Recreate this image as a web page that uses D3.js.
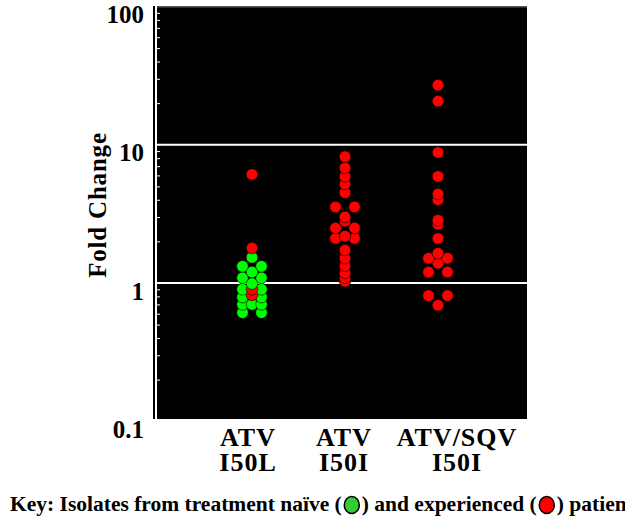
<!DOCTYPE html>
<html lang="en">
<head>
<meta charset="UTF-8">
<title>Fold change of I50L / I50I isolates</title>
<style>
  html, body { margin: 0; background: #fff; }
  text { font-family: 'Liberation Serif', 'Times New Roman', serif; font-weight: bold; fill: #000; }
</style>
</head>
<body>
<svg id="chart" width="625" height="520" viewBox="0 0 625 520"></svg>
<script src="https://d3js.org/d3.v7.min.js"></script>
<script>
// groups along x
const groupTop = ["ATV", "ATV", "ATV/SQV"];
const groupBottom = ["I50L", "I50I", "I50I"];

// fold change, treatment naive isolates (green)
const naiveValues = [
  [1.53, 1.32, 1.32, 1.2, 1.09, 1.09, 0.99, 0.9, 0.9, 0.79, 0.79, 0.7, 0.7, 0.7, 0.61, 0.61],
  [],
  []
];
// fold change, treatment experienced isolates (red)
const experiencedValues = [
  [6.1, 1.79, 0.9, 0.82],
  [8.2, 6.8, 5.9, 5.2, 4.5, 3.55, 3.55, 3.0, 2.8, 2.5, 2.5, 2.18, 2.1, 2.1, 1.73, 1.51, 1.33, 1.18, 1.09, 1.03],
  [27, 20.7, 8.8, 5.9, 4.4, 4.0, 2.84, 2.66, 2.1, 1.64, 1.51, 1.51, 1.39, 1.2, 1.2, 0.81, 0.81, 0.69]
];

const majorTicks = [0.1, 1, 10, 100];
const tickLabels = ["0.1", "1", "10", "100"];
const gridValues = [1, 10, 100];

const svg = d3.select("#chart");
const plot = {left: 153, right: 527, top: 6, bottom: 419};

const y = d3.scaleLog().domain([0.1, 100]).range([421.25, 6.5]);
const x = d3.scalePoint().domain(d3.range(groupTop.length)).range([252, 438]);
const colStep = 9.5, r = 5.8;

svg.append("rect")
  .attr("x", plot.left).attr("y", plot.top)
  .attr("width", plot.right - plot.left).attr("height", plot.bottom - plot.top)
  .attr("fill", "#000");

// white axis line
svg.append("line")
  .attr("x1", 156).attr("x2", 156)
  .attr("y1", plot.top).attr("y2", plot.bottom)
  .attr("stroke", "#fff").attr("stroke-width", 2);

// gridlines
svg.append("g").selectAll("line")
  .data(gridValues)
  .join("line")
  .attr("x1", 155).attr("x2", plot.right)
  .attr("y1", d => y(d)).attr("y2", d => y(d))
  .attr("stroke", "#fff").attr("stroke-width", 2)
  .attr("stroke-opacity", d => d === 100 ? 0.35 : 1);

// minor ticks
const minor = [];
[0.1, 1, 10].forEach(dec => { for (let k = 2; k <= 9; k++) minor.push(dec * k); });
const minorAxis = d3.axisRight(y).tickValues(minor).tickSize(3).tickFormat("");
const gMinor = svg.append("g").attr("transform", "translate(157,0)").call(minorAxis);
gMinor.select(".domain").remove();
gMinor.selectAll("line").attr("stroke", "#fff");

// labelled ticks
const yAxis = d3.axisLeft(y).tickValues(majorTicks).tickSize(0).tickPadding(11)
  .tickFormat((d, i) => tickLabels[i]);
const gY = svg.append("g").attr("transform", "translate(155,0)").call(yAxis);
gY.select(".domain").remove();
gY.selectAll("text")
  .attr("dy", 16)
  .attr("font-size", 25)
  .attr("font-family", "'Liberation Serif', 'Times New Roman', serif");

svg.append("text")
  .attr("transform", "translate(106,205) rotate(-90)")
  .attr("text-anchor", "middle")
  .attr("font-size", 25)
  .attr("letter-spacing", 0.8)
  .text("Fold Change");

// equal readings sit side by side, single ones in the centre column
function spread(values) {
  const counts = d3.rollup(values, v => v.length, d => d);
  const seen = new Map();
  return values.map(v => {
    const n = counts.get(v), k = seen.get(v) || 0;
    seen.set(v, k + 1);
    const slots = n === 1 ? [0] : n === 2 ? [-1, 1] : d3.range(n).map(i => i - (n - 1) / 2);
    return {v: v, c: slots[k]};
  });
}

const dots = [];
groupTop.forEach((g, i) => {
  spread(naiveValues[i]).forEach(d => dots.push({g: i, v: d.v, c: d.c, fill: "#00ff00"}));
  spread(experiencedValues[i]).forEach(d => dots.push({g: i, v: d.v, c: d.c, fill: "#ff0000"}));
});

// lower values drawn first so upper dots sit on top
const order = d3.range(dots.length).sort((a, b) => dots[a].v - dots[b].v);
svg.append("g").selectAll("circle")
  .data(order.map(k => dots[k]))
  .join("circle")
  .attr("cx", d => x(d.g) + d.c * colStep)
  .attr("cy", d => y(d.v))
  .attr("r", r)
  .attr("fill", d => d.fill)
  .attr("stroke", "#000")
  .attr("stroke-width", 0.6);

// group labels
const labelNudge = [-4, -1, 19];
const gx = svg.append("g").attr("text-anchor", "middle").attr("font-size", 26);
groupTop.forEach((g, i) => {
  const cx = x(i) + labelNudge[i];
  const t = gx.append("text").attr("letter-spacing", 1);
  t.append("tspan").attr("x", cx).attr("y", 446).text(g);
  t.append("tspan").attr("x", cx).attr("y", 471).text(groupBottom[i]);
});

// key line
const keyParts = ["Key: Isolates from treatment naïve (", ") and experienced (", ") patients"];
const keyColors = ["#33cc33", "#ff0000"];
let kx = 10;
keyParts.forEach((p, i) => {
  const t = svg.append("text").attr("x", kx).attr("y", 511).attr("font-size", 21.5).text(p);
  kx += t.node().getComputedTextLength();
  if (i < keyColors.length) {
    svg.append("ellipse")
      .attr("cx", kx + 10).attr("cy", 505)
      .attr("rx", 7.5).attr("ry", 8.5)
      .attr("fill", keyColors[i])
      .attr("stroke", "#000").attr("stroke-width", 1.5);
    kx += 20;
  }
});
</script>
</body>
</html>
